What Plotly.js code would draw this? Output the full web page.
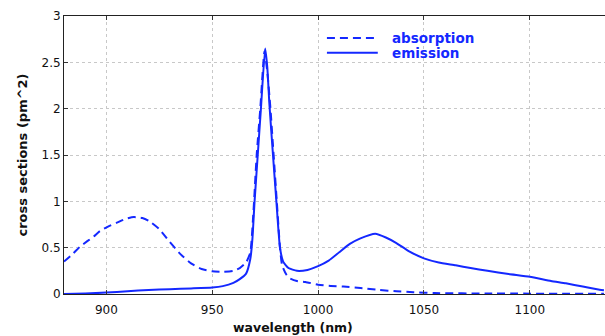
<!DOCTYPE html>
<html>
<head>
<meta charset="utf-8">
<script src="https://cdn.plot.ly/plotly-3.0.1.min.js"></script>
<style>
  html, body { margin: 0; padding: 0; background: #fff; }
  #chart { width: 605px; height: 336px; }
</style>
</head>
<body>
<div id="chart"></div>
<script>
// Absorption cross section (pm^2) vs wavelength (nm)
const absWavelength = [880, 884, 887.5, 891, 894, 897, 901, 905, 909, 913, 917, 920, 925, 930, 935, 940, 945, 950, 955, 960, 963, 966, 968, 969.5, 971, 972.7, 974.7, 976, 977.5, 979, 980.5, 982, 983, 985, 986.6, 990, 994, 1000, 1006, 1012, 1020, 1029, 1037, 1045, 1055, 1080, 1135];
const absValues = [0.35, 0.43, 0.51, 0.57, 0.62, 0.68, 0.73, 0.77, 0.81, 0.83, 0.82, 0.79, 0.70, 0.56, 0.43, 0.33, 0.27, 0.245, 0.24, 0.25, 0.28, 0.34, 0.45, 0.90, 1.50, 2.00, 2.62, 2.40, 2.00, 1.50, 1.00, 0.50, 0.31, 0.21, 0.17, 0.14, 0.13, 0.10, 0.086, 0.08, 0.065, 0.043, 0.03, 0.02, 0.01, 0.005, 0.003];

// Emission cross section (pm^2) vs wavelength (nm)
const emWavelength = [880, 890, 900, 910, 920, 930, 940, 950, 955, 960, 963, 966, 968, 969, 970, 971.5, 973, 975, 976, 977, 978.7, 980.3, 982, 983.5, 986, 990, 995, 1000, 1005, 1010, 1015, 1020, 1027, 1032, 1037, 1043, 1050, 1057, 1065, 1072, 1080, 1090, 1100, 1110, 1117, 1125, 1133, 1135];
const emValues = [0.0, 0.005, 0.015, 0.03, 0.043, 0.052, 0.06, 0.07, 0.085, 0.12, 0.16, 0.22, 0.38, 0.60, 1.00, 1.50, 2.00, 2.65, 2.45, 2.05, 1.50, 1.00, 0.50, 0.35, 0.28, 0.25, 0.26, 0.30, 0.36, 0.45, 0.54, 0.60, 0.65, 0.61, 0.55, 0.46, 0.385, 0.34, 0.31, 0.28, 0.25, 0.215, 0.185, 0.14, 0.115, 0.08, 0.045, 0.04];

const xTicks = [900, 950, 1000, 1050, 1100];
const yTicks = [0, 0.5, 1, 1.5, 2, 2.5, 3];
const yTickText = ['0', '0.5', '1', '1.5', '2', '2.5', '3'];

const seriesNames = ['absorption', 'emission'];
const lineColor = '#1428ff';
const fontFam = 'DejaVu Sans, Verdana, sans-serif';

const traces = [
  {
    x: absWavelength, y: absValues, name: seriesNames[0], type: 'scatter', mode: 'lines',
    line: { color: lineColor, width: 2, dash: '8px,5px', shape: 'spline', smoothing: 0.5 }
  },
  {
    x: emWavelength, y: emValues, name: seriesNames[1], type: 'scatter', mode: 'lines',
    line: { color: lineColor, width: 2, shape: 'spline', smoothing: 0.5 }
  }
];

// key drawn as paper-anchored samples + labels
const keyRows = [
  { y: 0.921, dash: '8px,5px' },
  { y: 0.868, dash: 'solid' }
];
const shapes = keyRows.map(r => ({
  type: 'line', xref: 'paper', yref: 'paper', x0: 0.486, x1: 0.580, y0: r.y, y1: r.y,
  line: { color: lineColor, width: 2, dash: r.dash }
}));
const annotations = keyRows.map((r, i) => ({
  xref: 'paper', yref: 'paper', x: 0.602, y: r.y, xanchor: 'left', yanchor: 'middle',
  text: seriesNames[i], showarrow: false,
  font: { family: fontFam, size: 13.5, color: lineColor, weight: 'bold' }
}));
annotations.push({
  xref: 'paper', yref: 'paper', x: 0.423, y: -0.122, xanchor: 'center', yanchor: 'middle',
  text: 'wavelength (nm)', showarrow: false,
  font: { family: fontFam, size: 12.5, color: '#111', weight: 'bold' }
});

const layout = {
  width: 605, height: 336,
  margin: { l: 64, r: 0, t: 16, b: 42 },
  paper_bgcolor: '#fff', plot_bgcolor: '#fff',
  font: { family: fontFam, size: 12, color: '#111' },
  showlegend: false,
  shapes: shapes,
  annotations: annotations,
  xaxis: {
    range: [880, 1135.5], tickvals: xTicks, ticks: 'inside', ticklen: 4, tickcolor: '#333',
    showline: true, linecolor: '#222', linewidth: 1, mirror: 'ticks',
    showgrid: true, gridcolor: '#c8c8c8', griddash: '3px,3px', gridwidth: 1,
    zeroline: false, ticklabelstandoff: 5,
    tickfont: { family: fontFam, size: 12, color: '#111' }
  },
  yaxis: {
    range: [0, 3], tickvals: yTicks, ticktext: yTickText, ticks: 'inside', ticklen: 4, tickcolor: '#333',
    showline: true, linecolor: '#222', linewidth: 1,
    showgrid: true, gridcolor: '#c8c8c8', griddash: '3px,3px', gridwidth: 1,
    zeroline: false,
    tickfont: { family: fontFam, size: 12, color: '#111' },
    title: { text: 'cross sections (pm^2)', font: { family: fontFam, size: 13, color: '#111', weight: 'bold' }, standoff: 10 }
  }
};

Plotly.newPlot('chart', traces, layout, { staticPlot: true, displayModeBar: false });
</script>
</body>
</html>
